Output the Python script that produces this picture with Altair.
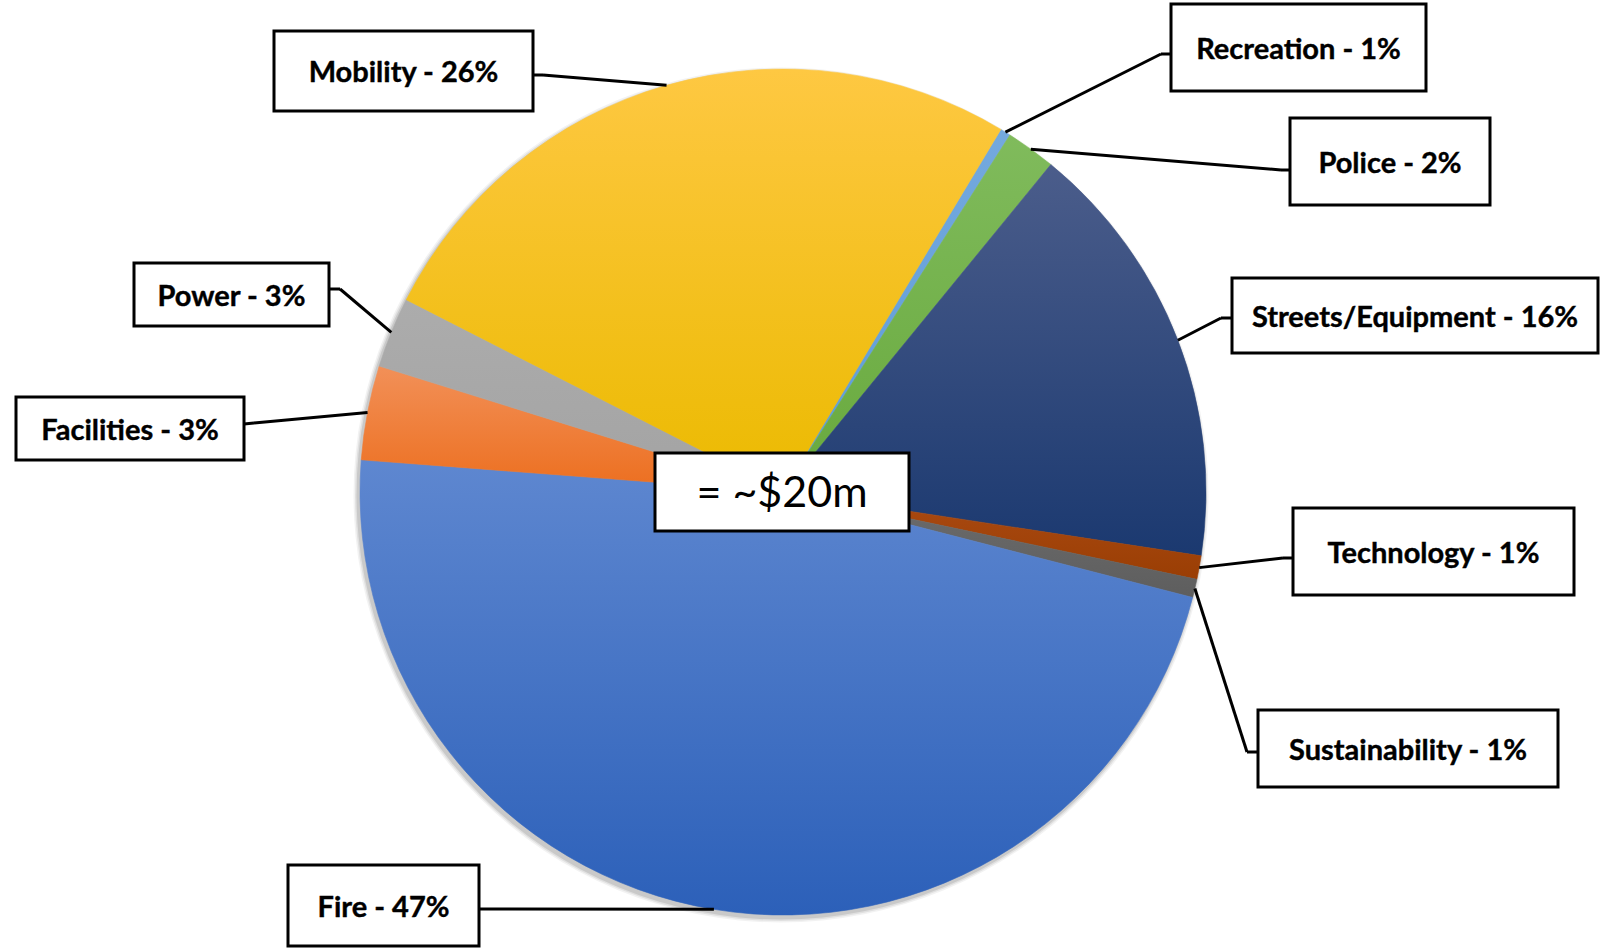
import math
import altair as alt
import pandas as pd

# ---------------- data ----------------
categories = ["Recreation", "Police", "Streets/Equipment", "Technology",
              "Sustainability", "Fire", "Facilities", "Power", "Mobility"]
shares = [0.4, 1.9, 16.5, 0.9, 0.7, 47.2, 3.6, 2.7, 26.1]
label_pct = ["1%", "2%", "16%", "1%", "1%", "47%", "3%", "3%", "26%"]
center_text = "= ~$20m"

# ---------------- styles ----------------
top_colors = ["#74a9de", "#80bb5c", "#4b5d8b", "#ab4a12", "#6c6c6c",
              "#5e87d0", "#f29058", "#acacac", "#fec842"]
bottom_colors = ["#5d9cd8", "#68a93d", "#1b3970", "#9a3e04", "#5e5e5e",
                 "#2c60b9", "#ec6e1e", "#a3a3a3", "#ebba00"]

# ---------------- layout (pixels) ----------------
W, H = 1601, 952
CX, CY, R = 783, 492, 423
START = math.radians(31.0)

# box x1, y1, x2, y2, attach x, attach y, elbow x, elbow y
layout = {
    "Recreation":        (1171, 4, 1426, 91, 1171, 54, 1161, 54),
    "Police":            (1290, 118, 1490, 205, 1290, 170, 1281, 170),
    "Streets/Equipment": (1232, 278, 1598, 353, 1232, 318, 1221, 318),
    "Technology":        (1293, 508, 1574, 595, 1293, 558, 1283, 558),
    "Sustainability":    (1258, 710, 1558, 787, 1258, 752, 1247, 752),
    "Fire":              (288, 865, 479, 946, 479, 909, 489, 909),
    "Facilities":        (16, 397, 244, 460, 244, 424, 254, 423),
    "Power":             (134, 263, 329, 326, 329, 289, 340, 289),
    "Mobility":          (274, 31, 533, 111, 533, 75, 543, 75),
}
center_box = (655, 453, 909, 531)

rows = []
for i, (c, v, p) in enumerate(zip(categories, shares, label_pct)):
    bx1, by1, bx2, by2, ax, ay, elx, ely = layout[c]
    rows.append(dict(category=c, value=v, order=i, label=f"{c} - {p}",
                     bx1=bx1, by1=by1, bx2=bx2, by2=by2,
                     ax=ax, ay=ay, elx=elx, ely=ely))
df = pd.DataFrame(rows)

base = alt.Chart(df).transform_window(
    cum="sum(value)", sort=[alt.SortField("order")], frame=[None, 0]
).transform_calculate(
    start="datum.cum - datum.value",
    mid="datum.cum - datum.value / 2",
).transform_calculate(
    ang=f"{START} + datum.mid / 100 * 2 * PI"
).transform_calculate(
    ex=f"{CX} + {R} * sin(datum.ang)",
    ey=f"{CY} - {R} * cos(datum.ang)",
    tx="(datum.bx1 + datum.bx2) / 2",
    ty="(datum.by1 + datum.by2) / 2 + 2",
)

theta_scale = alt.Scale(domain=[0, 100], range=[START, START + 2 * math.pi])

one = alt.Data(values=[{"b": 1}])

# soft shadow rings under the pie
layers = []
for extra, op in [(4.5, 0.05), (3.0, 0.07), (1.5, 0.10)]:
    layers.append(
        alt.Chart(one).mark_arc(
            theta=0, theta2=2 * math.pi, radius=R + extra,
            fill="#000000", fillOpacity=op
        ).encode(x=alt.value(CX - 2), y=alt.value(CY + 3))
    )

for c, t, b in zip(categories, top_colors, bottom_colors):
    grad = alt.Gradient(
        gradient="linear",
        stops=[alt.GradientStop(color=t, offset=0),
               alt.GradientStop(color=b, offset=1)],
        x1=0, x2=0, y1=0, y2=1,
    )
    layers.append(
        base.transform_filter(alt.datum.category == c).mark_arc(
            radius=R, fill=grad, stroke=grad, strokeWidth=0.6
        ).encode(
            theta=alt.Theta("start:Q", scale=theta_scale, stack=None),
            theta2="cum:Q",
            x=alt.value(CX),
            y=alt.value(CY),
        )
    )

seg1 = base.mark_rule(color="black", strokeWidth=3).encode(
    x=alt.X("ax:Q", scale=None), y=alt.Y("ay:Q", scale=None),
    x2="elx:Q", y2="ely:Q",
)
seg2 = base.mark_rule(color="black", strokeWidth=3).encode(
    x=alt.X("elx:Q", scale=None), y=alt.Y("ely:Q", scale=None),
    x2="ex:Q", y2="ey:Q",
)
boxes = base.mark_rect(fill="white", stroke="black", strokeWidth=3).encode(
    x=alt.X("bx1:Q", scale=None), x2="bx2:Q",
    y=alt.Y("by1:Q", scale=None), y2="by2:Q",
)
texts = base.mark_text(
    font="Lato", fontWeight="bold", fontSize=29, color="black",
    align="center", baseline="middle", stroke="black", strokeWidth=0.4
).encode(
    x=alt.X("tx:Q", scale=None), y=alt.Y("ty:Q", scale=None),
    text="label:N",
)

cdata = alt.Data(values=[{"t": center_text}])
cbox = alt.Chart(cdata).mark_rect(fill="white", stroke="black", strokeWidth=3).encode(
    x=alt.value(center_box[0]), x2=alt.value(center_box[2]),
    y=alt.value(center_box[1]), y2=alt.value(center_box[3]),
)
ctext = alt.Chart(cdata).mark_text(
    font="Lato", fontSize=43, color="black", align="center", baseline="middle"
).encode(
    x=alt.value((center_box[0] + center_box[2]) / 2),
    y=alt.value((center_box[1] + center_box[3]) / 2 + 2),
    text="t:N",
)

layers += [seg1, seg2, boxes, texts, cbox, ctext]

chart = alt.layer(*layers).properties(
    width=W, height=H, padding=0,
    autosize=alt.AutoSizeParams(type="none"),
).configure(background="#ffffff").configure_view(stroke=None)

chart.save("out.html", embed_options={"renderer": "svg", "actions": False})
